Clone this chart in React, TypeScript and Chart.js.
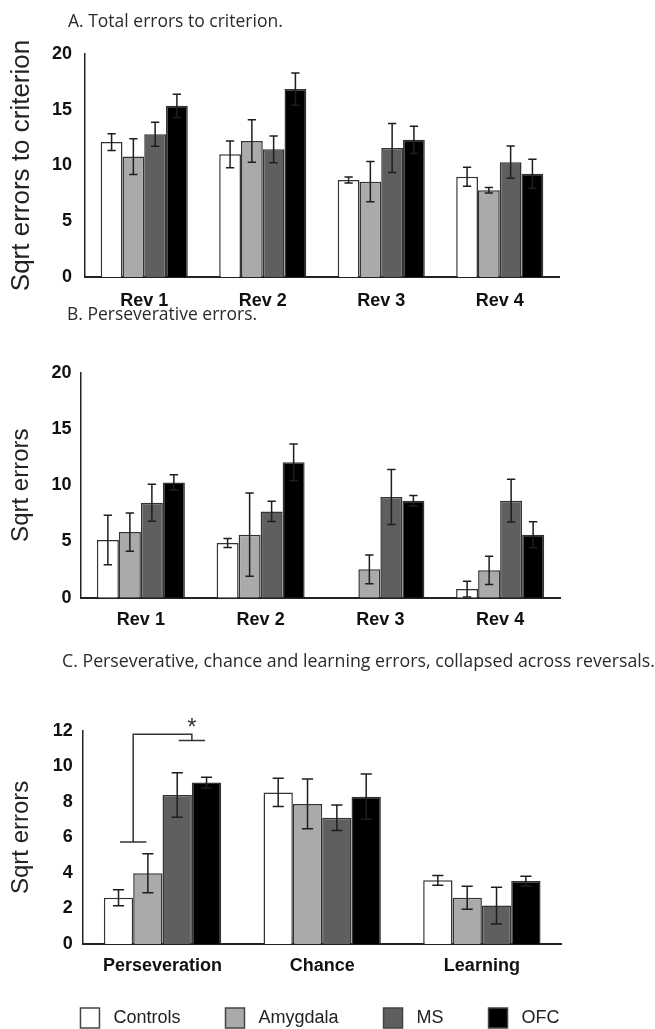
import React, { useEffect, useRef } from 'react';
import { Chart, registerables } from 'chart.js';

Chart.register(...registerables);

// ---------- data ----------
const groupNames = ['Controls', 'Amygdala', 'MS', 'OFC'];
const groupColors = ['#ffffff', '#aaaaaa', '#5f5f5f', '#000000'];

const revLabels = ['Rev 1', 'Rev 2', 'Rev 3', 'Rev 4'];
const errorTypeLabels = ['Perseveration', 'Chance', 'Learning'];

// A. Total errors to criterion (sqrt)
const totalControls = [12.1, 11.0, 8.7, 9.0];
const totalAmygdala = [10.8, 12.2, 8.55, 7.78];
const totalMS = [12.8, 11.45, 11.57, 10.3];
const totalOFC = [15.35, 16.85, 12.3, 9.25];
const totalControlsSem = [0.75, 1.2, 0.27, 0.85];
const totalAmygdalaSem = [1.6, 1.9, 1.8, 0.25];
const totalMSSem = [1.07, 1.2, 2.2, 1.45];
const totalOFCSem = [1.05, 1.45, 1.23, 1.3];

// B. Perseverative errors (sqrt)
const persControls = [5.13, 4.86, null, 0.77];
const persAmygdala = [5.84, 5.6, 2.52, 2.43];
const persMS = [8.44, 7.67, 8.95, 8.62];
const persOFC = [10.25, 12.03, 8.62, 5.6];
const persControlsSem = [2.2, 0.4, 0, 0.7];
const persAmygdalaSem = [1.7, 3.7, 1.27, 1.25];
const persMSSem = [1.65, 0.9, 2.45, 1.9];
const persOFCSem = [0.68, 1.63, 0.47, 1.15];

// C. Collapsed across reversals (sqrt)
const collControls = [2.6, 8.53, 3.58];
const collAmygdala = [3.98, 7.88, 2.6];
const collMS = [8.38, 7.1, 2.16];
const collOFC = [9.08, 8.29, 3.54];
const collControlsSem = [0.45, 0.8, 0.28];
const collAmygdalaSem = [1.1, 1.4, 0.65];
const collMSSem = [1.25, 0.72, 1.03];
const collOFCSem = [0.3, 1.27, 0.27];

// y ticks
const yTicksA = [0, 5, 10, 15, 20];
const yTicksB = [0, 5, 10, 15, 20];
const yTicksC = [0, 2, 4, 6, 8, 10, 12];

// significance bracket (Controls+Amygdala vs MS+OFC, perseveration)
const bracketLeftLevel = 5.74;
const bracketTopLevel = 11.8;
const bracketRightLevel = 11.45;
const bracketStarLevel = 12.4;

// ---------- styling ----------
const AXIS_FONT = '"Liberation Sans", Arial, Helvetica, sans-serif';
const TITLE_FONT = '"Open Sans", "Noto Sans", sans-serif';
const INK = '#222222';

// ---------- plugins ----------
const errorBarPlugin = {
  id: 'errorBars',
  afterDatasetsDraw(chart: any, _args: any, opts: any) {
    const ctx = chart.ctx;
    const y = chart.scales.y;
    ctx.save();
    ctx.strokeStyle = opts.color || INK;
    ctx.lineWidth = opts.lineWidth || 1.5;
    chart.data.datasets.forEach((ds: any, i: number) => {
      const meta = chart.getDatasetMeta(i);
      const errs = ds.errors || [];
      meta.data.forEach((bar: any, j: number) => {
        const v = ds.data[j];
        const e = errs[j];
        if (v == null || !e) return;
        const x = bar.x;
        const cap = bar.width * (opts.capRatio || 0.19);
        const yt = y.getPixelForValue(v + e);
        const yb = y.getPixelForValue(Math.max(v - e, 0));
        ctx.beginPath();
        ctx.moveTo(x, yt);
        ctx.lineTo(x, yb);
        ctx.moveTo(x - cap, yt);
        ctx.lineTo(x + cap, yt);
        ctx.moveTo(x - cap, yb);
        ctx.lineTo(x + cap, yb);
        ctx.stroke();
      });
    });
    ctx.restore();
  },
};

const panelTitlePlugin = {
  id: 'panelTitle',
  afterDraw(chart: any, _args: any, opts: any) {
    if (!opts || !opts.text) return;
    const ctx = chart.ctx;
    ctx.save();
    ctx.font = `${opts.size}px ${TITLE_FONT}`;
    ctx.fillStyle = '#2a2a2a';
    ctx.textAlign = 'left';
    ctx.textBaseline = 'middle';
    ctx.fillText(opts.text, opts.x, opts.y);
    ctx.restore();
  },
};

const bracketPlugin = {
  id: 'sigBracket',
  afterDatasetsDraw(chart: any, _args: any, opts: any) {
    if (!opts || !opts.show) return;
    const ctx = chart.ctx;
    const y = chart.scales.y;
    const c0 = chart.getDatasetMeta(0).data[0];
    const c2 = chart.getDatasetMeta(2).data[0];
    const xl = c0.x + c0.width / 2;
    const xr = c2.x + c2.width / 2;
    const half = c0.width * 0.45;
    const yl = y.getPixelForValue(bracketLeftLevel);
    const yt = y.getPixelForValue(bracketTopLevel);
    const yr = y.getPixelForValue(bracketRightLevel);
    ctx.save();
    ctx.strokeStyle = '#333';
    ctx.lineWidth = 1.5;
    ctx.beginPath();
    ctx.moveTo(xl - half, yl);
    ctx.lineTo(xl + half, yl);
    ctx.moveTo(xl, yl);
    ctx.lineTo(xl, yt);
    ctx.lineTo(xr, yt);
    ctx.lineTo(xr, yr);
    ctx.moveTo(xr - half, yr);
    ctx.lineTo(xr + half, yr);
    ctx.stroke();
    ctx.fillStyle = '#333';
    ctx.font = `24px ${AXIS_FONT}`;
    ctx.textAlign = 'center';
    ctx.textBaseline = 'middle';
    ctx.fillText('*', xr, y.getPixelForValue(bracketStarLevel) + 5);
    ctx.restore();
  },
};

// ---------- config builder ----------
type PanelSpec = {
  labels: string[];
  series: (number | null)[][];
  sems: number[][];
  yTicks: number[];
  yTitle: string;
  yTitleSize: number;
  yTitlePad: number;
  yAxisWidth: number;
  rightGutter: number;
  yTickPad: number;
  xAxisHeight: number;
  xTickPad: number;
  padTop: number;
  title: { text: string; x: number; y: number; size: number };
  legend: boolean;
  bracket: boolean;
};

function makeConfig(p: PanelSpec): any {
  return {
    type: 'bar',
    data: {
      labels: p.labels,
      datasets: groupNames.map((name, i) => ({
        label: name,
        data: p.series[i],
        errors: p.sems[i],
        backgroundColor: groupColors[i],
        borderColor: '#333333',
        borderWidth: 1.5,
        categoryPercentage: 0.735,
        barPercentage: 1.0,
        yAxisID: 'y',
      })),
    },
    options: {
      responsive: false,
      maintainAspectRatio: false,
      animation: false,
      devicePixelRatio: 1,
      layout: { padding: { top: p.padTop, right: 0, bottom: 0, left: 0 } },
      scales: {
        x: {
          grid: { display: false, drawTicks: false },
          border: { display: true, color: INK, width: 2 },
          ticks: {
            color: '#111',
            padding: p.xTickPad,
            font: { family: AXIS_FONT, size: 18, weight: 'bold' },
            maxRotation: 0,
            autoSkip: false,
          },
          afterFit: (s: any) => {
            s.height = p.xAxisHeight;
          },
        },
        y: {
          position: 'left',
          min: p.yTicks[0],
          max: p.yTicks[p.yTicks.length - 1],
          grid: { display: false, drawTicks: false },
          border: { display: true, color: INK, width: 1.5 },
          ticks: {
            stepSize: p.yTicks[1] - p.yTicks[0],
            color: '#111',
            padding: p.yTickPad,
            font: { family: AXIS_FONT, size: 18, weight: 'bold' },
          },
          title: {
            display: true,
            text: p.yTitle,
            color: '#222',
            font: { family: AXIS_FONT, size: p.yTitleSize, lineHeight: 1.2 },
            padding: { top: p.yTitlePad, bottom: 0 },
          },
          afterFit: (s: any) => {
            s.width = p.yAxisWidth;
          },
        },
        gutter: {
          position: 'right',
          display: true,
          grid: { display: false, drawTicks: false },
          border: { display: false },
          ticks: { display: false },
          afterFit: (s: any) => {
            s.width = p.rightGutter;
          },
        },
      },
      plugins: {
        legend: {
          display: p.legend,
          position: 'bottom',
          align: 'center',
          labels: {
            boxWidth: 19,
            boxHeight: 20,
            padding: 30,
            color: '#222',
            font: { family: AXIS_FONT, size: 18 },
            generateLabels: (chart: any) =>
              Chart.defaults.plugins.legend.labels
                .generateLabels(chart)
                .map((l: any) => ({ ...l, text: ' ' + l.text + '   ', lineWidth: 1.5, strokeStyle: '#444' })),
          },
        },
        tooltip: { enabled: false },
        title: { display: false },
        errorBars: { color: '#1e1e1e', lineWidth: 1.5, capRatio: 0.19 },
        panelTitle: p.title,
        sigBracket: { show: p.bracket },
      },
    },
    plugins: [errorBarPlugin, panelTitlePlugin, bracketPlugin],
  };
}

const panelA: PanelSpec = {
  labels: revLabels,
  series: [totalControls, totalAmygdala, totalMS, totalOFC],
  sems: [totalControlsSem, totalAmygdalaSem, totalMSSem, totalOFCSem],
  yTicks: yTicksA,
  yTitle: 'Sqrt errors to criterion',
  yTitleSize: 26,
  yTitlePad: 6,
  yAxisWidth: 85,
  rightGutter: 96,
  yTickPad: 13,
  xAxisHeight: 35,
  xTickPad: 13,
  padTop: 54,
  title: { text: 'A. Total errors to criterion.', x: 68, y: 22.5, size: 17.5 },
  legend: false,
  bracket: false,
};

const panelB: PanelSpec = {
  labels: revLabels,
  series: [persControls, persAmygdala, persMS, persOFC],
  sems: [persControlsSem, persAmygdalaSem, persMSSem, persOFCSem],
  yTicks: yTicksB,
  yTitle: 'Sqrt errors',
  yTitleSize: 24,
  yTitlePad: 6.6,
  yAxisWidth: 81,
  rightGutter: 95,
  yTickPad: 9.5,
  xAxisHeight: 37.3,
  xTickPad: 11.5,
  padTop: 67.7,
  title: { text: 'B. Perseverative errors.', x: 67, y: 10, size: 17.5 },
  legend: false,
  bracket: false,
};

const panelC: PanelSpec = {
  labels: errorTypeLabels,
  series: [collControls, collAmygdala, collMS, collOFC],
  sems: [collControlsSem, collAmygdalaSem, collMSSem, collOFCSem],
  yTicks: yTicksC,
  yTitle: 'Sqrt errors',
  yTitleSize: 24,
  yTitlePad: 6.6,
  yAxisWidth: 82.7,
  rightGutter: 93.3,
  yTickPad: 10,
  xAxisHeight: 34,
  xTickPad: 11.7,
  padTop: 95.7,
  title: {
    text: 'C. Perseverative, chance and learning errors, collapsed across reversals.',
    x: 62,
    y: 26.5,
    size: 17.75,
  },
  legend: true,
  bracket: true,
};

function ChartCanvas({ spec, top, height }: { spec: PanelSpec; top: number; height: number }) {
  const ref = useRef<HTMLCanvasElement | null>(null);
  useEffect(() => {
    if (!ref.current) return;
    const chart = new Chart(ref.current, makeConfig(spec));
    return () => chart.destroy();
  }, [spec]);
  return (
    <canvas
      ref={ref}
      width={655}
      height={height}
      style={{ position: 'absolute', left: 0, top, width: 655, height, display: 'block' }}
    />
  );
}

export default function App() {
  return (
    <div
      style={{
        position: 'absolute',
        left: 0,
        top: 0,
        width: 655,
        height: 1029,
        overflow: 'hidden',
        background: '#ffffff',
      }}
    >
      <ChartCanvas spec={panelA} top={0} height={312} />
      <ChartCanvas spec={panelB} top={305} height={330} />
      <ChartCanvas spec={panelC} top={635} height={403} />
    </div>
  );
}
